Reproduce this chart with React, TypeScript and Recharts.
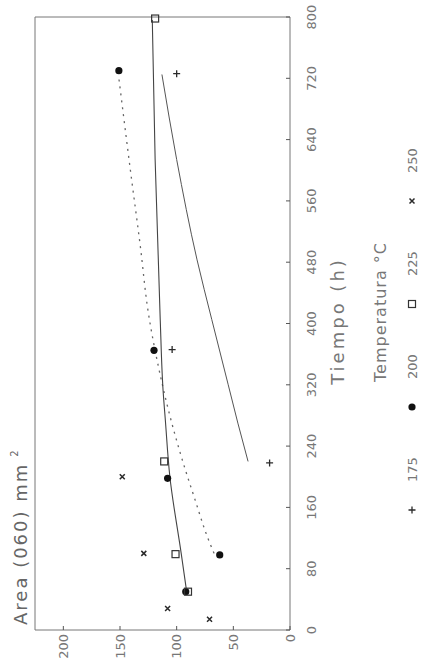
import React from 'react';
import { ComposedChart, Line, Scatter, XAxis, YAxis, ReferenceArea } from 'recharts';

// categories and ticks
const temps = ['175', '200', '225', '250'];
const timeTicks = [0, 80, 160, 240, 320, 400, 480, 560, 640, 720, 800];
const areaTicks = [0, 50, 100, 150, 200];

// measured points, t = tiempo (h), a = area
const pts175 = [
  { t: 218, a: 18 },
  { t: 366, a: 104 },
  { t: 726, a: 100 },
];
const pts200 = [
  { t: 50, a: 92 },
  { t: 98, a: 62 },
  { t: 198, a: 108 },
  { t: 365, a: 120 },
  { t: 730, a: 151 },
];
const pts225 = [
  { t: 50, a: 90 },
  { t: 99, a: 101 },
  { t: 220, a: 111 },
  { t: 798, a: 119 },
];
const pts250 = [
  { t: 14, a: 71 },
  { t: 28, a: 108 },
  { t: 100, a: 129 },
  { t: 200, a: 148 },
];

// fitted curves
const fit175 = [
  { t: 220, a: 37 },
  { t: 270, a: 46 },
  { t: 320, a: 54.5 },
  { t: 405, a: 69 },
  { t: 483, a: 82 },
  { t: 614, a: 100 },
  { t: 725, a: 113 },
];
const fit200 = [
  { t: 100, a: 67 },
  { t: 122, a: 73 },
  { t: 171, a: 84 },
  { t: 217, a: 94 },
  { t: 274, a: 105 },
  { t: 343, a: 116 },
  { t: 414, a: 125 },
  { t: 500, a: 132 },
  { t: 602, a: 141 },
  { t: 720, a: 151 },
];
const fit225 = [
  { t: 48, a: 91 },
  { t: 100, a: 96 },
  { t: 200, a: 106 },
  { t: 274, a: 110 },
  { t: 313, a: 112 },
  { t: 405, a: 114.5 },
  { t: 614, a: 119 },
  { t: 796, a: 121.5 },
];

const W = 669;
const H = 423;
const FONT = '"DejaVu Sans", sans-serif';
const TXT = '#777';
const INK = '#2a2a2a';

const plusPath = (x: number, y: number, s: number) => `M${x - s},${y}h${2 * s}M${x},${y - s}v${2 * s}`;
const crossPath = (x: number, y: number, s: number) =>
  `M${x - s},${y - s}l${2 * s},${2 * s}M${x + s},${y - s}l${-2 * s},${2 * s}`;

function Marker({ kind, cx, cy }: { kind: string; cx: number; cy: number }) {
  if (kind === '175') return <path d={plusPath(cx, cy, 3.5)} stroke={INK} strokeWidth={1.3} />;
  if (kind === '200') return <circle cx={cx} cy={cy} r={3.6} fill="#111" />;
  if (kind === '225')
    return <rect x={cx - 3.5} y={cy - 3.5} width={7} height={7} fill="none" stroke="#333" strokeWidth={1.2} />;
  return <path d={crossPath(cx, cy, 2.5)} stroke={INK} strokeWidth={1.5} />;
}

const shapeFor = (kind: string) => (p: any) => <Marker kind={kind} cx={p.cx} cy={p.cy} />;

function TimeTick(p: any) {
  return (
    <g>
      <line x1={p.x} y1={p.y} x2={p.x} y2={p.y - 4} stroke="#555" />
      <text x={p.x} y={p.y + 26} textAnchor="middle" fontSize={13} fontFamily={FONT} fill={TXT}>
        {p.payload.value}
      </text>
    </g>
  );
}

function AreaTick(p: any) {
  return (
    <g>
      <line x1={p.x} y1={p.y} x2={p.x + 4} y2={p.y} stroke="#555" />
      <text x={p.x - 4} y={p.y} dy="0.36em" textAnchor="end" fontSize={13} fontFamily={FONT} fill={TXT}>
        {p.payload.value}
      </text>
    </g>
  );
}

export default function App() {
  return (
    <div style={{ position: 'absolute', left: 0, top: 0, width: H, height: W, overflow: 'hidden', background: '#fff' }}>
      <div
        style={{
          position: 'absolute',
          left: 0,
          top: 0,
          width: W,
          height: H,
          transformOrigin: '0 0',
          transform: `translate(0px, ${W}px) rotate(-90deg)`,
        }}
      >
        <ComposedChart width={W} height={H} margin={{ top: 35, right: 17, bottom: 103, left: 0 }}>
          <XAxis
            type="number"
            dataKey="t"
            domain={[0, 800]}
            ticks={timeTicks}
            interval={0}
            axisLine={false}
            tickLine={false}
            tickSize={0}
            tickMargin={0}
            height={30}
            tick={TimeTick}
          />
          <YAxis
            type="number"
            dataKey="a"
            domain={[0, 225]}
            ticks={areaTicks}
            interval={0}
            axisLine={false}
            tickLine={false}
            tickSize={0}
            tickMargin={0}
            width={39}
            tick={AreaTick}
          />
          <ReferenceArea x1={0} x2={800} y1={0} y2={225} fill="none" stroke="#777" strokeWidth={1} />
          <Line data={fit175} dataKey="a" type="monotone" stroke="#555" strokeWidth={1} dot={false} isAnimationActive={false} />
          <Line
            data={fit200}
            dataKey="a"
            type="monotone"
            stroke="#666"
            strokeWidth={1.3}
            strokeDasharray="2 5"
            dot={false}
            isAnimationActive={false}
          />
          <Line data={fit225} dataKey="a" type="monotone" stroke="#444" strokeWidth={1.1} dot={false} isAnimationActive={false} />
          <Scatter data={pts175} shape={shapeFor('175')} isAnimationActive={false} />
          <Scatter data={pts200} shape={shapeFor('200')} isAnimationActive={false} />
          <Scatter data={pts225} shape={shapeFor('225')} isAnimationActive={false} />
          <Scatter data={pts250} shape={shapeFor('250')} isAnimationActive={false} />
        </ComposedChart>
        <svg width={W} height={H} style={{ position: 'absolute', left: 0, top: 0, pointerEvents: 'none' }}>
          <text x={44} y={27} fontSize={18} letterSpacing={2} fontFamily={FONT} fill="#666">
            Area (060) mm
            <tspan dx={6} dy={-9} fontSize={10}>
              2
            </tspan>
          </text>
          <text x={348} y={344} textAnchor="middle" fontSize={18} letterSpacing={3} fontFamily={FONT} fill={TXT}>
            Tiempo (h)
          </text>
          <text x={357} y={386} textAnchor="middle" fontSize={16} letterSpacing={1} fontFamily={FONT} fill={TXT}>
            Temperatura °C
          </text>
          {temps.map((k, i) => {
            const mx = 159 + i * 103;
            return (
              <g key={k}>
                <Marker kind={k} cx={mx} cy={412} />
                <text x={mx + 28} y={417} fontSize={13} fontFamily={FONT} fill={TXT}>
                  {k}
                </text>
              </g>
            );
          })}
        </svg>
      </div>
    </div>
  );
}
